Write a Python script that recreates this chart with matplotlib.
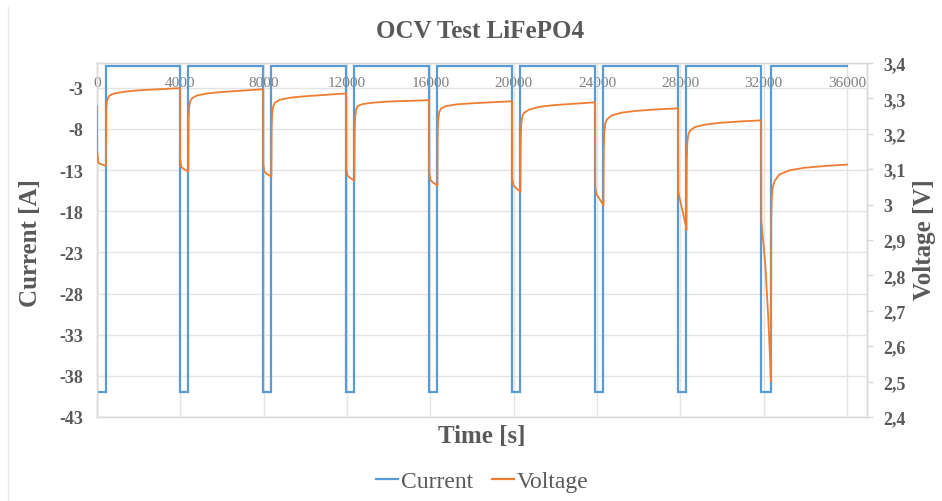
import matplotlib
matplotlib.use("Agg")
import matplotlib.pyplot as plt
from matplotlib.ticker import FixedLocator, FuncFormatter
from matplotlib.lines import Line2D
import numpy as np

plt.rcParams['font.family'] = ['Liberation Serif', 'DejaVu Serif']
plt.rcParams['axes.unicode_minus'] = False

# ---------------- data ----------------
cycle_start_s = [0, 3985, 7970, 11955, 15940, 19925, 23910, 27895, 31880]
pulse_duration_s = [430, 400, 400, 400, 400, 400, 400, 400, 470]
end_time_s = 36000
pulse_current_a = -40.0
rest_current_a = -0.4

# voltage during pulse, at offsets from pulse start (last offset = pulse end)
drop_offsets_s = [0, 8, 60, 200, 350]
drop_voltage_v = [
    [3.278, 3.150, 3.118, 3.114, 3.111, 3.110],
    [3.329, 3.130, 3.106, 3.100, 3.095, 3.093],
    [3.326, 3.115, 3.093, 3.086, 3.081, 3.079],
    [3.314, 3.105, 3.083, 3.075, 3.070, 3.068],
    [3.295, 3.090, 3.070, 3.062, 3.056, 3.053],
    [3.292, 3.075, 3.055, 3.046, 3.039, 3.036],
    [3.289, 3.050, 3.030, 3.017, 3.003, 2.997],
    [3.272, 3.040, 3.020, 2.985, 2.945, 2.928],
    [3.238, 2.955, 2.920, 2.830, 2.670, 2.500],
]
# voltage during rest, at offsets from pulse end (last offset = end of rest)
recovery_offsets_s = [15, 40, 90, 170, 400, 900, 1600, 2600]
recovery_voltage_v = [
    [3.265, 3.288, 3.300, 3.308, 3.314, 3.319, 3.323, 3.326, 3.329],
    [3.245, 3.275, 3.292, 3.300, 3.308, 3.314, 3.318, 3.322, 3.326],
    [3.225, 3.258, 3.278, 3.288, 3.296, 3.302, 3.306, 3.310, 3.314],
    [3.215, 3.250, 3.270, 3.279, 3.284, 3.288, 3.291, 3.293, 3.295],
    [3.205, 3.242, 3.262, 3.271, 3.278, 3.283, 3.286, 3.289, 3.292],
    [3.185, 3.228, 3.250, 3.259, 3.268, 3.276, 3.281, 3.285, 3.289],
    [3.155, 3.205, 3.230, 3.241, 3.252, 3.260, 3.265, 3.269, 3.272],
    [3.125, 3.175, 3.198, 3.209, 3.219, 3.226, 3.231, 3.235, 3.238],
    [2.950, 3.020, 3.050, 3.066, 3.085, 3.097, 3.104, 3.109, 3.113],
]

x_ticks = [0, 4000, 8000, 12000, 16000, 20000, 24000, 28000, 32000, 36000]
current_ticks = [-43, -38, -33, -28, -23, -18, -13, -8, -3]
voltage_ticks = [2.4, 2.5, 2.6, 2.7, 2.8, 2.9, 3.0, 3.1, 3.2, 3.3, 3.4]

# ---------------- build series ----------------
t_cur, i_cur = [], []
t_v, v = [], []
n = len(cycle_start_s)
for k in range(n):
    s = cycle_start_s[k]
    d = pulse_duration_s[k]
    e = s + d
    nxt = cycle_start_s[k + 1] if k + 1 < n else end_time_s
    t_cur += [s, s, e, e]
    i_cur += [rest_current_a, pulse_current_a, pulse_current_a, rest_current_a]
    offs = drop_offsets_s + [d]
    t_v += [s + o for o in offs]
    v += drop_voltage_v[k]
    roffs = recovery_offsets_s + [nxt - e]
    t_v += [e + o for o in roffs]
    v += recovery_voltage_v[k]
t_cur = t_cur[1:] + [end_time_s]
i_cur = i_cur[1:] + [rest_current_a]

# ---------------- plot ----------------
gray = '#595959'
grid_c = '#E4E4E4'
blue = '#5B9BD5'
orange = '#ED7D31'

fig = plt.figure(figsize=(9.42, 5.02), dpi=100)
ax = fig.add_axes([97/942, 1-418/502, 770/942, 354/502])
ax2 = ax.twinx()

ax.plot(t_cur, i_cur, color=blue, lw=1.6, zorder=3, solid_joinstyle='miter')
ax2.plot(t_v, v, color=orange, lw=1.3, zorder=3)

ax.set_xlim(0, 36960)
ax.set_ylim(-43, 0)
ax2.set_ylim(2.4, 3.4)

ax.xaxis.set_major_locator(FixedLocator(x_ticks))
ax.yaxis.set_major_locator(FixedLocator(current_ticks))
ax2.yaxis.set_major_locator(FixedLocator(voltage_ticks))

def vfmt(val, pos):
    s = f"{val:.1f}"
    if s.endswith('.0'):
        s = s[:-2]
    return s.replace('.', ',')
ax2.yaxis.set_major_formatter(FuncFormatter(vfmt))
ax.yaxis.set_major_formatter(FuncFormatter(lambda val, pos: f"{val:.0f}"))

ax.grid(True, color=grid_c, lw=1.0)
ax.set_axisbelow(True)
for a in (ax, ax2):
    for sp in a.spines.values():
        sp.set_color('#D9D9D9')
        sp.set_linewidth(1.0)

ax.tick_params(axis='x', top=True, bottom=False, labeltop=True, labelbottom=False,
               length=0, pad=-19, labelsize=11, labelcolor='#7F7F7F')
ax.tick_params(axis='y', length=0, pad=10, labelsize=13, labelcolor=gray)
for lab in ax.get_yticklabels():
    lab.set_fontweight('bold')
ax2.tick_params(axis='y', length=4, width=1, color='#D9D9D9', pad=8, labelsize=13, labelcolor=gray)
for lab in ax2.get_yticklabels():
    lab.set_fontweight('bold')

fig.text(480/942, 1-32/502, 'OCV Test LiFePO4', ha='center', va='center',
         fontsize=18, fontweight='bold', color=gray)
fig.text(30/942, 1-243/502, 'Current [A]', ha='center', va='center', rotation=90,
         fontsize=18, fontweight='bold', color=gray)
fig.text(925/942, 1-240/502, 'Voltage [V]', ha='center', va='center', rotation=90,
         fontsize=18, fontweight='bold', color=gray)
fig.text(482/942, 1-437/502, 'Time [s]', ha='center', va='center',
         fontsize=18, fontweight='bold', color=gray)

handles = [Line2D([], [], color=blue, lw=1.6), Line2D([], [], color=orange, lw=1.6)]
fig.legend(handles, ['Current', 'Voltage'], loc='center', bbox_to_anchor=(482/942, 1-482/502),
           ncol=2, frameon=False, fontsize=17, handlelength=0.95, handletextpad=0.1,
           columnspacing=0.8, labelcolor=gray)

fig.add_artist(Line2D([8/942, 8/942], [0, 1-8/502], color='#E8E8E8', lw=1.0))

fig.savefig('out.png', dpi=100)
